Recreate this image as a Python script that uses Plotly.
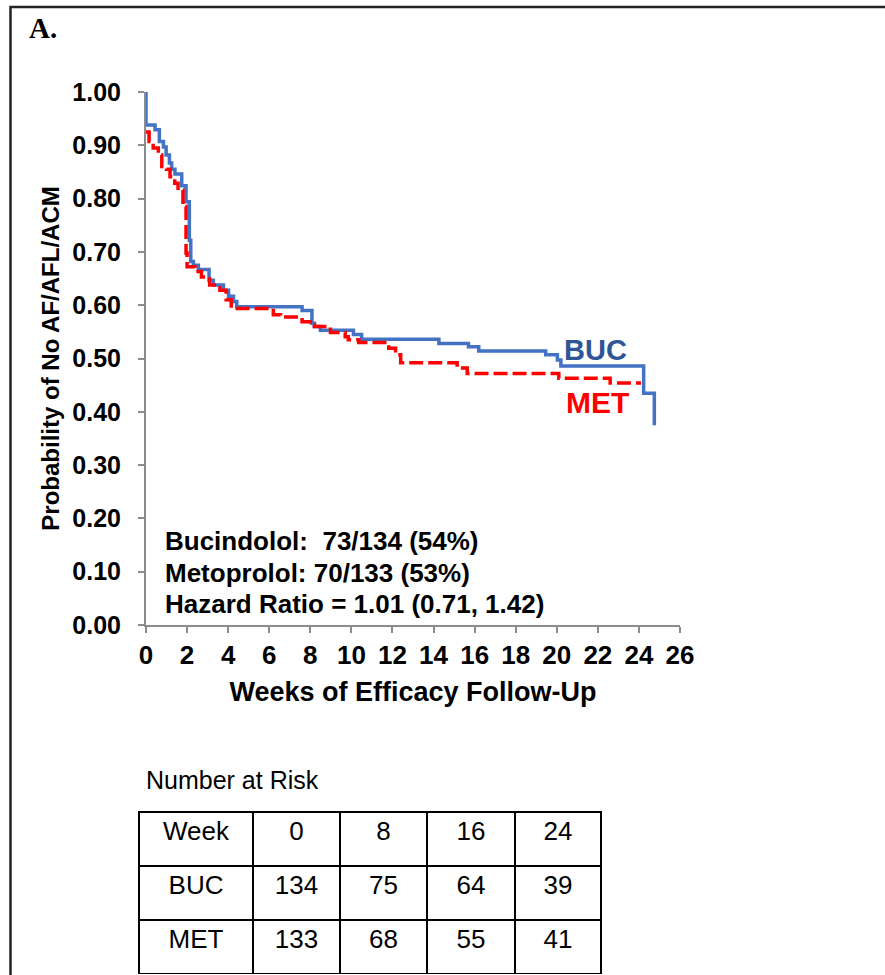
import plotly.graph_objects as go

# ---- data ----
buc_t = [0, 0, 0.44, 0.65, 0.85, 0.98, 1.14, 1.25, 1.41, 1.74, 1.95, 2.11, 2.18, 2.31, 2.55,
         3.07, 3.28, 3.77, 4.02, 4.26, 4.42, 7.6, 8.08, 8.2, 8.49, 10.1, 10.5, 14.26, 15.7,
         16.2, 19.46, 20.03, 20.2, 24.23, 24.75]
buc_s = [1.0, 0.938, 0.929, 0.907, 0.897, 0.882, 0.867, 0.855, 0.846, 0.824, 0.794, 0.722,
         0.682, 0.675, 0.667, 0.647, 0.638, 0.628, 0.617, 0.607, 0.597, 0.590, 0.566, 0.560,
         0.553, 0.545, 0.536, 0.528, 0.522, 0.514, 0.507, 0.497, 0.486, 0.435, 0.375]

met_t = [0, 0.15, 0.35, 0.6, 0.77, 1.0, 1.17, 1.4, 1.56, 1.8, 1.95, 2.0, 2.38, 2.7, 3.1, 3.6,
         3.9, 4.15, 6.2, 6.55, 7.6, 8.0, 8.2, 8.98, 9.7, 9.85, 10.36, 11.82, 12.15, 12.4,
         15.15, 15.64, 20.1, 22.6, 24.1]
met_s = [0.925, 0.907, 0.895, 0.882, 0.860, 0.855, 0.841, 0.829, 0.816, 0.785, 0.698, 0.672,
         0.663, 0.653, 0.638, 0.628, 0.610, 0.594, 0.582, 0.578, 0.569, 0.563, 0.560, 0.549,
         0.541, 0.535, 0.530, 0.519, 0.507, 0.492, 0.482, 0.472, 0.463, 0.454, 0.454]

x_ticks = list(range(0, 27, 2))
y_ticks = [i / 10 for i in range(0, 11)]

stats_lines = ["Bucindolol:  73/134 (54%)", "Metoprolol: 70/133 (53%)",
               "Hazard Ratio = 1.01 (0.71, 1.42)"]

risk_header = ["Week", "0", "8", "16", "24"]
risk_groups = ["BUC", "MET"]
risk_buc = [134, 75, 64, 39]
risk_met = [133, 68, 55, 41]

# ---- figure ----
W, H = 885, 975
FONT = "Liberation Sans, Arial, sans-serif"
AXC = "#8c8c8c"

def px_x(p):
    return p / W

def px_y(p):
    return 1 - p / H

fig = go.Figure()
fig.add_trace(go.Scatter(x=buc_t, y=buc_s, mode="lines", line_shape="hv",
                         line=dict(color="#4472C4", width=3.5), name="BUC"))
fig.add_trace(go.Scatter(x=met_t, y=met_s, mode="lines", line_shape="hv",
                         line=dict(color="#FF0000", width=3.5, dash="14px,5px"), name="MET"))

table_cells = [risk_groups] + [[b, m] for b, m in zip(risk_buc, risk_met)]
fig.add_trace(go.Table(
    domain=dict(x=[px_x(139), px_x(601)], y=[0, px_y(812)]),
    columnwidth=[114, 87, 87, 88, 86],
    header=dict(values=risk_header, height=54, align="center",
                line=dict(color="black", width=2), fill=dict(color="white"),
                font=dict(family=FONT, size=26, color="black")),
    cells=dict(values=table_cells, height=54, align="center",
               line=dict(color="black", width=2), fill=dict(color="white"),
               font=dict(family=FONT, size=26, color="black")),
))

fig.update_layout(
    width=W, height=H, margin=dict(l=0, r=0, t=0, b=0, autoexpand=False),
    paper_bgcolor="white", plot_bgcolor="white", showlegend=False,
    font=dict(family=FONT, color="black"),
    xaxis=dict(domain=[px_x(146), px_x(680)], range=[0, 26], tickvals=x_ticks,
               automargin=False,
               showline=True, linecolor=AXC, linewidth=2, ticks="outside",
               tickcolor=AXC, tickwidth=2, ticklen=6, showgrid=False, zeroline=False,
               tickfont=dict(family=FONT, size=26, color="black", weight="bold"),
               title=dict(text="<b>Weeks of Efficacy Follow-Up</b>", standoff=13,
                          font=dict(family=FONT, size=27, color="black"))),
    yaxis=dict(domain=[px_y(625), px_y(92)], range=[0, 1], tickvals=y_ticks,
               automargin=False,
               tickformat=".2f", showline=True, linecolor=AXC, linewidth=2,
               ticks="outside", tickcolor=AXC, tickwidth=2, ticklen=6, showgrid=False,
               zeroline=False, ticklabelstandoff=12,
               tickfont=dict(family=FONT, size=25, color="black", weight="bold"),
               title=dict(text="<b>Probability of No AF/AFL/ACM</b>", standoff=6,
                          font=dict(family=FONT, size=24, color="black"))),
)

# statistics text
for i, txt in enumerate(stats_lines):
    fig.add_annotation(x=px_x(163), y=px_y(541 + 31.5 * i), xref="paper", yref="paper",
                       text="<b>" + txt + "</b>", showarrow=False, xanchor="left",
                       yanchor="middle", font=dict(family=FONT, size=26, color="black"))

# curve labels
fig.add_annotation(x=21.9, y=0.516, xref="x", yref="y", text="<b>BUC</b>", showarrow=False,
                   font=dict(family=FONT, size=29, color="#2F5597"))
fig.add_annotation(x=22.0, y=0.418, xref="x", yref="y", text="<b>MET</b>", showarrow=False,
                   font=dict(family=FONT, size=30, color="#FF0000"))

# panel letter
fig.add_annotation(x=px_x(27), y=px_y(28), xref="paper", yref="paper", text="<b>A.</b>",
                   showarrow=False, xanchor="left", yanchor="middle",
                   font=dict(family="Liberation Serif, Times New Roman, serif", size=29,
                             color="black"))

# Number at risk title
fig.add_annotation(x=px_x(144), y=px_y(780), xref="paper", yref="paper",
                   text="Number at Risk", showarrow=False, xanchor="left", yanchor="middle",
                   font=dict(family=FONT, size=25, color="black"))

# outer frame
fig.add_shape(type="rect", xref="paper", yref="paper", x0=px_x(10.5), y0=px_y(7),
              x1=1.02, y1=-0.02, line=dict(color="#222222", width=2.5))

fig.write_html("out.html")
